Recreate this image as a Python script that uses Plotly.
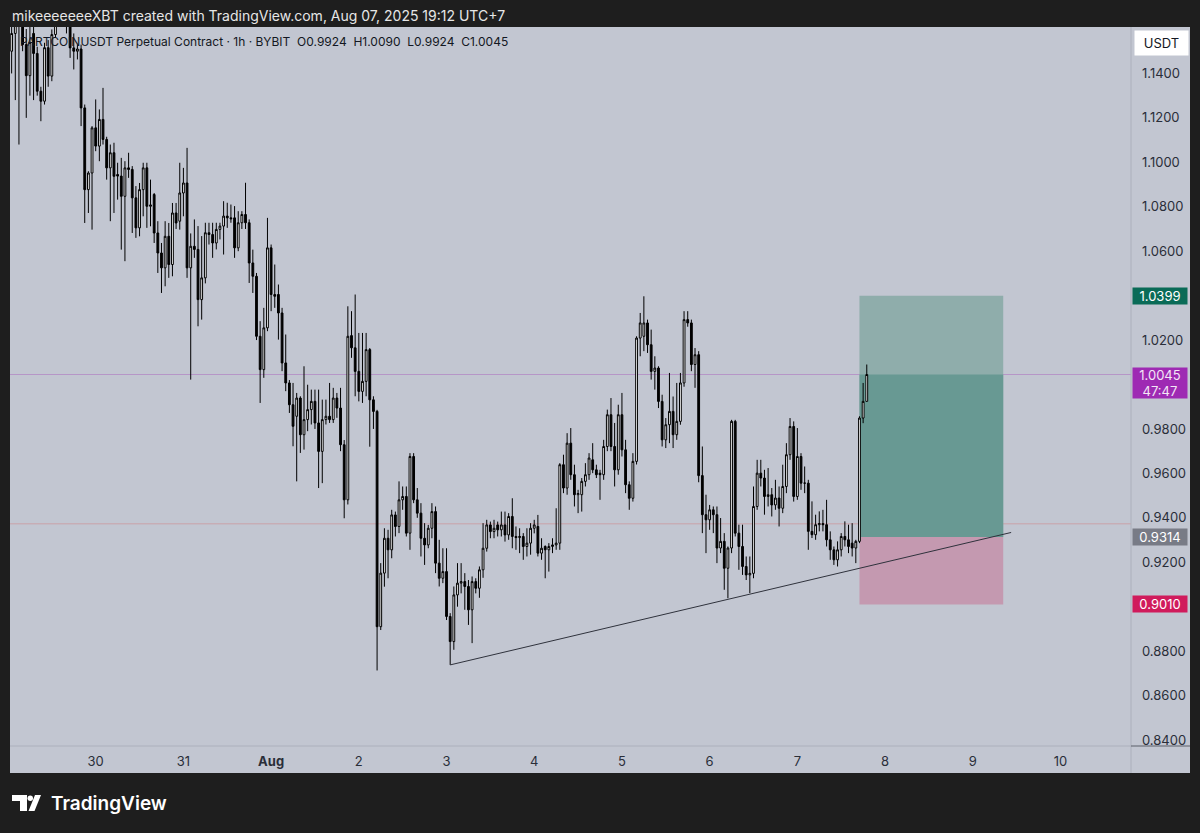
import pandas as pd
import plotly.graph_objects as go

# PARTCOINUSDT 1h candles, first visible bar Jul 29 01:00 (UTC+7)
first_bar = "2025-07-29 01:00"

opens = [
    1.150, 1.158, 1.162, 1.172, 1.153, 1.139, 1.158, 1.149, 1.132, 1.1275,
    1.1516, 1.1388, 1.1575, 1.166, 1.172, 1.168, 1.163, 1.1515, 1.150, 1.151,
    1.1245, 1.0877, 1.0952, 1.1155, 1.1073, 1.1193, 1.1103, 1.0975, 1.1043, 1.0945,
    1.0938, 1.0847, 1.0975, 1.0968, 1.0840, 1.0705, 1.0877, 1.0975, 1.0802, 1.0855,
    1.0682, 1.0592, 1.0525, 1.0667, 1.0540, 1.0772, 1.0735, 1.0862, 1.0907, 1.0525,
    1.0622, 1.0608, 1.0382, 1.0480, 1.0683, 1.0675, 1.0637, 1.0698, 1.0713, 1.0758,
    1.0750, 1.0750, 1.0615, 1.0728, 1.0765, 1.0728, 1.0547, 1.0487, 1.0217, 1.0067,
    1.0255, 1.0615, 1.0405, 1.0405, 1.0322, 1.0097, 1.0007, 0.9909, 0.9857, 0.9939,
    0.9774, 0.9842, 0.9887, 0.9924, 0.9827, 0.9699, 0.9842, 0.9857, 0.9842, 0.9939,
    0.9894, 0.9729, 0.9481, 1.0220, 1.0165, 1.0059, 0.9969, 1.0014, 1.0157, 0.9931,
    0.9879, 0.8910, 0.9151, 0.9308, 0.9256, 0.9413, 0.9361, 0.9481, 0.9496, 0.9331,
    0.9676, 0.9481, 0.9421, 0.9308, 0.9278, 0.9353, 0.9428, 0.9196, 0.9128, 0.9158,
    0.8956, 0.8843, 0.9053, 0.9106, 0.9113, 0.9091, 0.8986, 0.9113, 0.9083, 0.9166,
    0.9263, 0.9368, 0.9338, 0.9368, 0.9346, 0.9368, 0.9323, 0.9406, 0.9316, 0.9311,
    0.9316, 0.9271, 0.9286, 0.9353, 0.9361, 0.9241, 0.9271, 0.9256, 0.9271, 0.9278,
    0.9286, 0.9639, 0.9534, 0.9736, 0.9594, 0.9504, 0.9504, 0.9564, 0.9594, 0.9661,
    0.9616, 0.9601, 0.9594, 0.9721, 0.9864, 0.9721, 0.9616, 0.9864, 0.9706, 0.9549,
    0.9488, 0.9654, 1.0209, 1.0217, 1.0277, 1.0179, 1.0059, 1.0074, 0.9924, 0.9751,
    0.9819, 0.9879, 0.9774, 0.9834, 1.0007, 1.0292, 1.0277, 1.0090, 1.0134, 0.9590,
    0.9414, 0.9391, 0.9436, 0.9414, 0.9264, 0.9294, 0.9173, 0.9264, 0.9834, 0.9331,
    0.9271, 0.9181, 0.9143, 0.9150, 0.9451, 0.9601, 0.9579, 0.9496, 0.9504, 0.9458,
    0.9489, 0.9443, 0.9541, 0.9684, 0.9811, 0.9496, 0.9676, 0.9556, 0.9556, 0.9339,
    0.9324, 0.9369, 0.9374, 0.9369, 0.9301, 0.9256, 0.9211, 0.9256, 0.9316, 0.9301,
    0.9286, 0.9264, 0.9294, 0.9849, 0.9924,
]
highs = [
    1.165, 1.170, 1.172, 1.178, 1.160, 1.162, 1.165, 1.152, 1.134, 1.1538,
    1.155, 1.1598, 1.172, 1.180, 1.178, 1.174, 1.168, 1.158, 1.153, 1.153,
    1.126, 1.096, 1.1163, 1.1283, 1.1238, 1.1335, 1.1115, 1.1080, 1.1088, 1.0998,
    1.1020, 1.1005, 1.1043, 1.0983, 1.0893, 1.0907, 1.0998, 1.0998, 1.0922, 1.0862,
    1.0735, 1.0637, 1.0735, 1.0727, 1.0817, 1.0817, 1.0998, 1.0975, 1.1065, 1.0680,
    1.0743, 1.0713, 1.0668, 1.0728, 1.0728, 1.0728, 1.0728, 1.0728, 1.0825, 1.0818,
    1.0810, 1.0803, 1.0780, 1.0780, 1.0908, 1.0743, 1.0607, 1.0502, 1.0285, 1.0345,
    1.0750, 1.0630, 1.0540, 1.0450, 1.0345, 1.0225, 1.0020, 1.0007, 0.9962, 0.9947,
    1.0082, 0.9999, 0.9977, 0.9977, 0.9977, 0.9932, 0.9932, 1.0007, 0.9985, 0.9962,
    0.9985, 0.9750, 1.0352, 1.0330, 1.0405, 1.0232, 1.0232, 1.0232, 1.0164, 0.9947,
    0.9886, 0.9196, 0.9353, 0.9346, 0.9436, 0.9428, 0.9564, 0.9541, 0.9541, 0.9691,
    0.9691, 0.9534, 0.9466, 0.9376, 0.9368, 0.9466, 0.9451, 0.9301, 0.9263, 0.9263,
    0.8971, 0.9091, 0.9196, 0.9196, 0.9151, 0.9120, 0.9136, 0.9128, 0.9181, 0.9376,
    0.9391, 0.9383, 0.9391, 0.9383, 0.9428, 0.9428, 0.9421, 0.9488, 0.9361, 0.9353,
    0.9331, 0.9353, 0.9376, 0.9391, 0.9413, 0.9308, 0.9276, 0.9286, 0.9308, 0.9443,
    0.9646, 0.9684, 0.9781, 0.9804, 0.9639, 0.9526, 0.9579, 0.9646, 0.9691, 0.9736,
    0.9639, 0.9616, 0.9751, 0.9887, 0.9939, 0.9827, 0.9909, 0.9962, 0.9751, 0.9564,
    0.9691, 1.0217, 1.0322, 1.0397, 1.0292, 1.0247, 1.0127, 1.0082, 0.9954, 0.9849,
    1.0052, 0.9946, 1.0007, 1.0052, 1.0330, 1.0330, 1.0292, 1.0164, 1.0150, 0.9721,
    0.9504, 0.9458, 0.9451, 0.9451, 0.9399, 0.9331, 0.9271, 0.9841, 0.9841, 0.9369,
    0.9369, 0.9226, 0.9226, 0.9541, 0.9661, 0.9661, 0.9616, 0.9624, 0.9534, 0.9571,
    0.9541, 0.9639, 0.9736, 0.9849, 0.9834, 0.9804, 0.9691, 0.9631, 0.9571, 0.9474,
    0.9414, 0.9429, 0.9436, 0.9481, 0.9339, 0.9271, 0.9294, 0.9331, 0.9384, 0.9369,
    0.9376, 0.9301, 0.9857, 1.0007, 1.0090,
]
lows = [
    1.140, 1.128, 1.108, 1.150, 1.120, 1.130, 1.128, 1.130, 1.1185, 1.126,
    1.134, 1.1365, 1.156, 1.162, 1.163, 1.158, 1.147, 1.1418, 1.1463, 1.1163,
    1.0727, 1.0772, 1.0697, 1.1050, 1.1005, 1.1080, 1.0922, 1.0735, 1.0772, 1.0832,
    1.0607, 1.0555, 1.0930, 1.0682, 1.0660, 1.0667, 1.0757, 1.0705, 1.0712, 1.0637,
    1.0502, 1.0412, 1.0442, 1.0480, 1.0487, 1.0700, 1.0697, 1.0757, 1.0480, 1.0022,
    1.0570, 1.0262, 1.0292, 1.0455, 1.0630, 1.0570, 1.0608, 1.0653, 1.0585, 1.0705,
    1.0728, 1.0570, 1.0600, 1.0700, 1.0700, 1.0457, 1.0412, 1.0200, 0.9917, 1.0030,
    1.0240, 1.0330, 1.0345, 1.0202, 1.0060, 0.9970, 0.9872, 0.9722, 0.9564, 0.9692,
    0.9707, 0.9790, 0.9820, 0.9800, 0.9534, 0.9556, 0.9820, 0.9827, 0.9827, 0.9850,
    0.9700, 0.9398, 0.9460, 1.0120, 0.9947, 0.9924, 0.9917, 0.9947, 0.9720, 0.9800,
    0.8713, 0.8895, 0.9090, 0.9128, 0.9218, 0.9316, 0.9331, 0.9436, 0.9316, 0.9256,
    0.9466, 0.9400, 0.9226, 0.9188, 0.9263, 0.9308, 0.9151, 0.9091, 0.9106, 0.8940,
    0.8738, 0.8806, 0.9000, 0.9060, 0.8986, 0.8918, 0.8836, 0.9060, 0.9040, 0.9130,
    0.9248, 0.9308, 0.9308, 0.9316, 0.9316, 0.9293, 0.9301, 0.9263, 0.9256, 0.9241,
    0.9211, 0.9226, 0.9234, 0.9330, 0.9226, 0.9211, 0.9128, 0.9158, 0.9241, 0.9256,
    0.9256, 0.9511, 0.9504, 0.9571, 0.9451, 0.9421, 0.9428, 0.9541, 0.9571, 0.9601,
    0.9579, 0.9481, 0.9571, 0.9700, 0.9700, 0.9541, 0.9594, 0.9676, 0.9511, 0.9436,
    0.9473, 0.9640, 1.0127, 1.0150, 1.0142, 1.0022, 0.9977, 0.9894, 0.9721, 0.9714,
    0.9736, 0.9714, 0.9751, 0.9819, 0.9990, 1.0260, 1.0060, 0.9985, 0.9560, 0.9331,
    0.9241, 0.9346, 0.9331, 0.9196, 0.9241, 0.9076, 0.9038, 0.9241, 0.9316, 0.9166,
    0.9143, 0.9120, 0.9061, 0.9128, 0.9436, 0.9541, 0.9414, 0.9451, 0.9406, 0.9436,
    0.9361, 0.9421, 0.9511, 0.9661, 0.9473, 0.9481, 0.9526, 0.9511, 0.9256, 0.9309,
    0.9301, 0.9339, 0.9339, 0.9271, 0.9211, 0.9188, 0.9181, 0.9226, 0.9271, 0.9241,
    0.9226, 0.9196, 0.9286, 0.9826, 0.9924,
]
closes = [
    1.158, 1.162, 1.165, 1.153, 1.139, 1.154, 1.149, 1.132, 1.1275, 1.1516,
    1.1388, 1.1575, 1.166, 1.172, 1.168, 1.163, 1.1515, 1.150, 1.151, 1.1245,
    1.0877, 1.0952, 1.1155, 1.1073, 1.1193, 1.1103, 1.0975, 1.1043, 1.0937, 1.0938,
    1.0847, 1.0975, 1.0968, 1.0840, 1.0705, 1.0877, 1.0975, 1.0802, 1.0808, 1.0682,
    1.0592, 1.0525, 1.0667, 1.0540, 1.0772, 1.0727, 1.0862, 1.0907, 1.0525, 1.0622,
    1.0608, 1.0382, 1.0480, 1.0683, 1.0675, 1.0637, 1.0698, 1.0713, 1.0758, 1.0750,
    1.0746, 1.0615, 1.0728, 1.0765, 1.0728, 1.0547, 1.0487, 1.0217, 1.0067, 1.0255,
    1.0615, 1.0405, 1.0397, 1.0322, 1.0097, 1.0007, 0.9909, 0.9812, 0.9939, 0.9774,
    0.9842, 0.9887, 0.9924, 0.9827, 0.9699, 0.9842, 0.9857, 0.9842, 0.9939, 0.9894,
    0.9729, 0.9481, 1.0217, 1.0165, 1.0059, 0.9969, 1.0014, 1.0157, 0.9931, 0.9879,
    0.8910, 0.9151, 0.9308, 0.9256, 0.9413, 0.9361, 0.9481, 0.9496, 0.9331, 0.9676,
    0.9481, 0.9421, 0.9308, 0.9278, 0.9353, 0.9428, 0.9196, 0.9128, 0.9158, 0.8956,
    0.8843, 0.9053, 0.9106, 0.9113, 0.9091, 0.8986, 0.9113, 0.9083, 0.9166, 0.9263,
    0.9368, 0.9338, 0.9353, 0.9346, 0.9368, 0.9323, 0.9406, 0.9316, 0.9311, 0.9316,
    0.9271, 0.9286, 0.9353, 0.9368, 0.9241, 0.9263, 0.9256, 0.9271, 0.9278, 0.9286,
    0.9639, 0.9534, 0.9736, 0.9594, 0.9504, 0.9509, 0.9564, 0.9594, 0.9669, 0.9616,
    0.9594, 0.9594, 0.9721, 0.9864, 0.9721, 0.9616, 0.9864, 0.9706, 0.9549, 0.9488,
    0.9654, 1.0209, 1.0277, 1.0277, 1.0179, 1.0059, 1.0074, 0.9924, 0.9751, 0.9819,
    0.9879, 0.9774, 0.9834, 1.0007, 1.0292, 1.0277, 1.0090, 1.0134, 0.9590, 0.9414,
    0.9391, 0.9436, 0.9414, 0.9264, 0.9294, 0.9173, 0.9264, 0.9834, 0.9331, 0.9271,
    0.9181, 0.9143, 0.9150, 0.9451, 0.9601, 0.9579, 0.9496, 0.9504, 0.9458, 0.9489,
    0.9443, 0.9541, 0.9684, 0.9811, 0.9496, 0.9676, 0.9556, 0.9556, 0.9339, 0.9324,
    0.9369, 0.9374, 0.9369, 0.9301, 0.9256, 0.9211, 0.9256, 0.9316, 0.9301, 0.9271,
    0.9264, 0.9294, 0.9849, 0.9924, 1.0045,
]

# axis ticks
day_ticks = ["2025-07-30", "2025-07-31", "2025-08-01", "2025-08-02", "2025-08-03", "2025-08-04",
             "2025-08-05", "2025-08-06", "2025-08-07", "2025-08-08", "2025-08-09", "2025-08-10"]
day_labels = ["30", "31", "<b>Aug</b>", "2", "3", "4", "5", "6", "7", "8", "9", "10"]
price_ticks = [1.14, 1.12, 1.10, 1.08, 1.06, 1.02, 0.98, 0.96, 0.94, 0.92, 0.88, 0.86, 0.84]

# long position tool + drawings
entry = 0.9314
take_profit = 1.0399
stop_loss = 0.9010
last_price = 1.0045
countdown = "47:47"
position_start = "2025-08-07 17:00"
position_end = "2025-08-09 08:20"
level_line = 0.9373
trend_times = ["2025-08-03 01:00", "2025-08-09 10:30"]
trend_prices = [0.8738, 0.9334]

header = "mikeeeeeeeXBT created with TradingView.com, Aug 07, 2025 19:12 UTC+7"
legend = ("PARTCOINUSDT Perpetual Contract · 1h · BYBIT  O0.9924  H1.0090  "
          "L0.9924  C1.0045")

FONT = "Inter, Roboto, sans-serif"
BG = "#1e1e1e"
PANEL = "rgb(194,198,209)"
TEXT = "#2a2e39"

# pixel frame of the plot area in the 1200x833 picture
L, R, T, B = 10, 1131, 27, 746


def px(x):
    return (x - L) / (R - L)


def py(y):
    return (B - y) / (B - T)


times = pd.date_range(first_bar, periods=len(opens), freq="h")

fig = go.Figure()

fig.add_trace(go.Candlestick(
    x=times, open=opens, high=highs, low=lows, close=closes,
    increasing=dict(line=dict(color="#000000", width=1), fillcolor="#ffffff"),
    decreasing=dict(line=dict(color="#000000", width=1), fillcolor="#000000"),
    whiskerwidth=0,
    hoverinfo="skip",
    showlegend=False,
))

fig.add_trace(go.Scatter(
    x=trend_times, y=trend_prices, mode="lines",
    line=dict(color="#2f323c", width=1), hoverinfo="skip", showlegend=False,
))

shapes = []
# panel behind everything (plot area + both axes)
shapes.append(dict(type="rect", xref="paper", yref="paper", layer="below",
                   x0=px(L), x1=px(1190), y0=py(773), y1=py(T),
                   fillcolor=PANEL, line_width=0))
# position tool zones
shapes.append(dict(type="rect", xref="x", yref="y", layer="below",
                   x0=position_start, x1=position_end, y0=entry, y1=take_profit,
                   fillcolor="rgb(143,173,171)", line_width=0))
shapes.append(dict(type="rect", xref="x", yref="y", layer="below",
                   x0=position_start, x1=position_end, y0=entry, y1=last_price,
                   fillcolor="rgb(104,153,147)", line_width=0))
shapes.append(dict(type="rect", xref="x", yref="y", layer="below",
                   x0=position_start, x1=position_end, y0=stop_loss, y1=entry,
                   fillcolor="rgb(196,153,176)", line_width=0))
# horizontal price lines
shapes.append(dict(type="line", xref="paper", yref="y", layer="below",
                   x0=0, x1=1, y0=last_price, y1=last_price,
                   line=dict(color="rgba(156,39,176,0.3)", width=1)))
shapes.append(dict(type="line", xref="paper", yref="y", layer="below",
                   x0=0, x1=1, y0=level_line, y1=level_line,
                   line=dict(color="rgba(215,95,95,0.35)", width=1)))
# axis separators
shapes.append(dict(type="line", xref="paper", yref="paper",
                   x0=1, x1=1, y0=py(773), y1=py(T),
                   line=dict(color="rgb(172,176,188)", width=1)))
shapes.append(dict(type="line", xref="paper", yref="paper",
                   x0=px(L), x1=1, y0=0, y1=0,
                   line=dict(color="rgb(172,176,188)", width=1)))
shapes.append(dict(type="line", xref="paper", yref="paper",
                   x0=1, x1=px(1190), y0=0, y1=0,
                   line=dict(color="rgb(90,94,105)", width=1)))
# TradingView logo mark
shapes.append(dict(type="path", xref="paper", yref="paper",
                   path=(f"M {px(12)} {py(795)} L {px(27)} {py(795)} L {px(27)} {py(811)} "
                         f"L {px(20)} {py(811)} L {px(20)} {py(801)} L {px(12)} {py(801)} Z"),
                   fillcolor="#ffffff", line_width=0))
shapes.append(dict(type="circle", xref="paper", yref="paper",
                   x0=px(27.5), x1=px(33), y0=py(801), y1=py(795.5),
                   fillcolor="#ffffff", line_width=0))
shapes.append(dict(type="path", xref="paper", yref="paper",
                   path=(f"M {px(28.5)} {py(811)} L {px(35)} {py(795)} L {px(41)} {py(795)} "
                         f"L {px(34.5)} {py(811)} Z"),
                   fillcolor="#ffffff", line_width=0))

annotations = []
annotations.append(dict(xref="paper", yref="paper", x=px(L), y=py(15), xanchor="left",
                        yanchor="middle", text=header, showarrow=False,
                        font=dict(family=FONT, size=14, color="#e6e6e6")))
annotations.append(dict(xref="paper", yref="paper", x=px(18), y=py(42), xanchor="left",
                        yanchor="middle", text=legend, showarrow=False,
                        font=dict(family=FONT, size=12, color="#131722")))
annotations.append(dict(xref="paper", yref="paper", x=px(49), y=py(803), xanchor="left",
                        yanchor="middle", text="TradingView", showarrow=False,
                        font=dict(family=FONT, size=19, color="#ffffff", weight=600)))
# USDT box
annotations.append(dict(xref="paper", yref="paper", x=1, y=py(30), xanchor="left",
                        yanchor="top", xshift=3, text="USDT", showarrow=False,
                        width=53, height=24, bgcolor="#ffffff", borderpad=0,
                        font=dict(family=FONT, size=13, color="#131722")))
# price axis labels
for price, colour in [(take_profit, "#0a6b57"), (entry, "#787b86"), (stop_loss, "#d01b5c")]:
    annotations.append(dict(xref="paper", yref="y", x=1, y=price, xanchor="left",
                            yanchor="middle", xshift=1, text=f"{price:.4f}",
                            showarrow=False, width=54, height=16, bgcolor=colour,
                            borderpad=0, font=dict(family=FONT, size=13, color="#ffffff")))
annotations.append(dict(xref="paper", yref="y", x=1, y=last_price, xanchor="left",
                        yanchor="top", xshift=1, yshift=8,
                        text=f"{last_price:.4f}<br>{countdown}", showarrow=False,
                        width=54, height=30, bgcolor="#9e2ab3", borderpad=0,
                        font=dict(family=FONT, size=13, color="#f3e6f6")))

fig.update_layout(
    width=1200, height=833,
    margin=dict(l=L, r=1200 - R, t=T, b=833 - B),
    paper_bgcolor=BG, plot_bgcolor=PANEL,
    font=dict(family=FONT, size=13, color=TEXT),
    shapes=shapes, annotations=annotations,
    showlegend=False,
    xaxis=dict(
        type="date",
        range=["2025-07-29 00:33", "2025-08-10 19:18"],
        rangeslider=dict(visible=False),
        tickvals=day_ticks, ticktext=day_labels,
        ticklabelstandoff=6,
        showgrid=False, zeroline=False, showline=False, ticks="",
        tickfont=dict(family=FONT, size=13, color=TEXT),
    ),
    yaxis=dict(
        side="right",
        range=[0.8373, 1.1609],
        tickvals=price_ticks, ticktext=[f"{p:.4f}" for p in price_ticks],
        ticklabelstandoff=10,
        showgrid=False, zeroline=False, showline=False, ticks="",
        tickfont=dict(family=FONT, size=13, color=TEXT),
    ),
)

fig.write_html("out.html", config={"displayModeBar": False},
               post_script="document.body.style.margin='0';")
